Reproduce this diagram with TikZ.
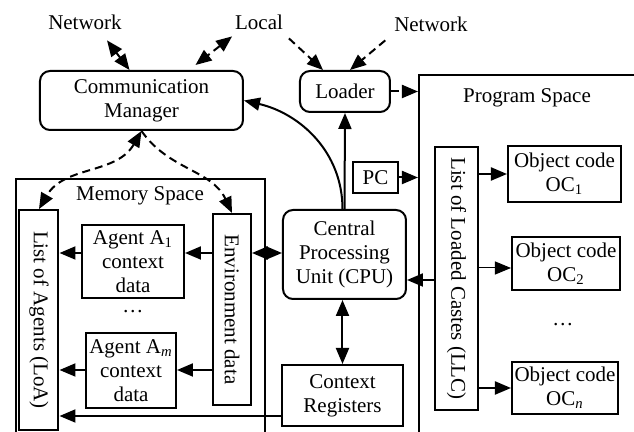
\documentclass[tikz,border=0pt]{standalone}
\usepackage{fontspec}
\setmainfont{Liberation Serif}
\usetikzlibrary{arrows.meta}

\begin{document}
\begin{tikzpicture}[x=0.5pt, y=0.5pt, line width=1pt,
  >={Triangle[length=8pt,width=6.5pt]},
  every node/.style={font=\fontsize{10.5}{12}\selectfont, align=center},
  box/.style={draw, inner sep=0pt},
  rbox/.style={box, rounded corners=5pt},
  dsh/.style={dash pattern=on 4pt off 2.5pt}]
\useasboundingbox (0,0) rectangle (634,-432);
\clip (0,0) rectangle (634,-432);

% Sources
\node[inner sep=1pt] (net1) at (85,-22) {Network};
\node[inner sep=1pt] (local) at (259,-22) {Local};
\node[inner sep=1pt] (net2) at (431,-24) {Network};

% Top boxes
\node[rbox, minimum width=101.5pt, minimum height=29.5pt] (cm) at (141.5,-100.5) {Communication\\Manager};
\node[rbox, minimum width=45pt, minimum height=20.5pt] (loader) at (345,-91.5) {Loader};

% Memory space
\node[box, minimum width=124.5pt, minimum height=133pt] (memsp) at (140.5,-312) {};
\node (memlbl) at (140,-196) {Memory Space};
\node[box, rotate=-90, minimum width=110pt, minimum height=19.5pt] (loa) at (39,-320) {List of Agents (LoA)};
\node[box, rotate=-90, minimum width=95.5pt, minimum height=19pt] (env) at (232,-309.5) {Environment data};
\node[box, minimum width=51pt, minimum height=36.5pt] (a1) at (133,-261.5) {Agent A\textsubscript{1}\\context\\data};
\node (dots1) at (133,-312) {\ldots};
\node[box, minimum width=45pt, minimum height=37.5pt] (am) at (131,-370.5) {Agent A\textsubscript{\textit{m}}\\context\\data};

% CPU and registers
\node[rbox, minimum width=61.5pt, minimum height=44.5pt] (cpu) at (344.5,-254.5) {Central\\Processing\\Unit (CPU)};
\node[box, minimum width=60.5pt, minimum height=30.5pt] (cr) at (342.5,-395.5) {Context\\Registers};
\node[box, minimum width=22.5pt, minimum height=15.5pt] (pc) at (375.5,-177.5) {PC};

% Program space
\node[box, minimum width=120.5pt, minimum height=187.5pt] (progsp) at (539.5,-262.5) {};
\node (proglbl) at (527,-98) {Program Space};
\node[box, rotate=-90, minimum width=131.5pt, minimum height=21.5pt] (llc) at (456.5,-278.5) {List of Loaded Castes (LLC)};
\node[box, minimum width=56.5pt, minimum height=28pt] (oc1) at (564.5,-174) {Object code\\OC\textsubscript{1}};
\node[box, minimum width=54pt, minimum height=26.5pt] (oc2) at (566,-263.5) {Object code\\OC\textsubscript{2}};
\node (dots2) at (563,-325) {\ldots};
\node[box, minimum width=53pt, minimum height=26pt] (ocn) at (565,-388) {Object code\\OC\textsubscript{\textit{n}}};

% Rows
\coordinate (r1) at (0,-253);
\coordinate (r2) at (0,-268);
\coordinate (r3) at (0,-280);
\coordinate (r4) at (0,-370);
\coordinate (r5) at (0,-416);

% Outside links
\draw[<->] ([xshift=11pt,yshift=-4pt]net1.south) -- ([xshift=-6pt]cm.north);
\draw[<->, dsh] ([yshift=-2pt]local.south west) -- ([xshift=27pt,yshift=2.5pt]cm.north);
\draw[->, dsh] ([xshift=1.5pt,yshift=-3pt]local.south east) -- ([xshift=-11pt]loader.north);
\draw[->, dsh] ([xshift=-3pt,yshift=-3pt]net2.south west) -- ([xshift=2.5pt]loader.north);
\draw[->, dsh] (loader.east) -- (loader.east -| progsp.west);

% Manager to memory
\draw[<->, dsh] (cm.south) to[out=-120, in=60] (loa.west);
\draw[->, dsh] (cm.south) to[out=-55, in=115] (env.west);

% CPU links
\draw[->] ([xshift=-1pt]cpu.north) to[out=90, in=-13] (cm.east);
\draw[->] (cpu.north) -- (loader.south);
\draw[<->] (r1 -| env.north) -- (r1 -| cpu.west);
\draw[<->] (cr.north |- cpu.south) -- (cr.north);
\draw[->] (r3 -| llc.south) -- (r3 -| cpu.east);
\draw[->] (r5 -| cr.west) -- (r5 -| loa.north);
\draw[->] (pc.east) -- (pc.east -| progsp.west);

% Inside memory
\draw[->] (r1 -| env.south) -- (r1 -| a1.east);
\draw[->] (r1 -| a1.west) -- (r1 -| loa.north);
\draw[->] (r4 -| env.south) -- (r4 -| am.east);
\draw[->] (r4 -| am.west) -- (r4 -| loa.north);

% Inside program space
\draw[->] (oc1.west -| llc.north) -- (oc1.west);
\draw[->, line width=0.5pt] (r2 -| llc.north) -- (r2 -| oc2.west);
\draw[->] (ocn.west -| llc.north) -- (ocn.west);
\end{tikzpicture}
\end{document}
